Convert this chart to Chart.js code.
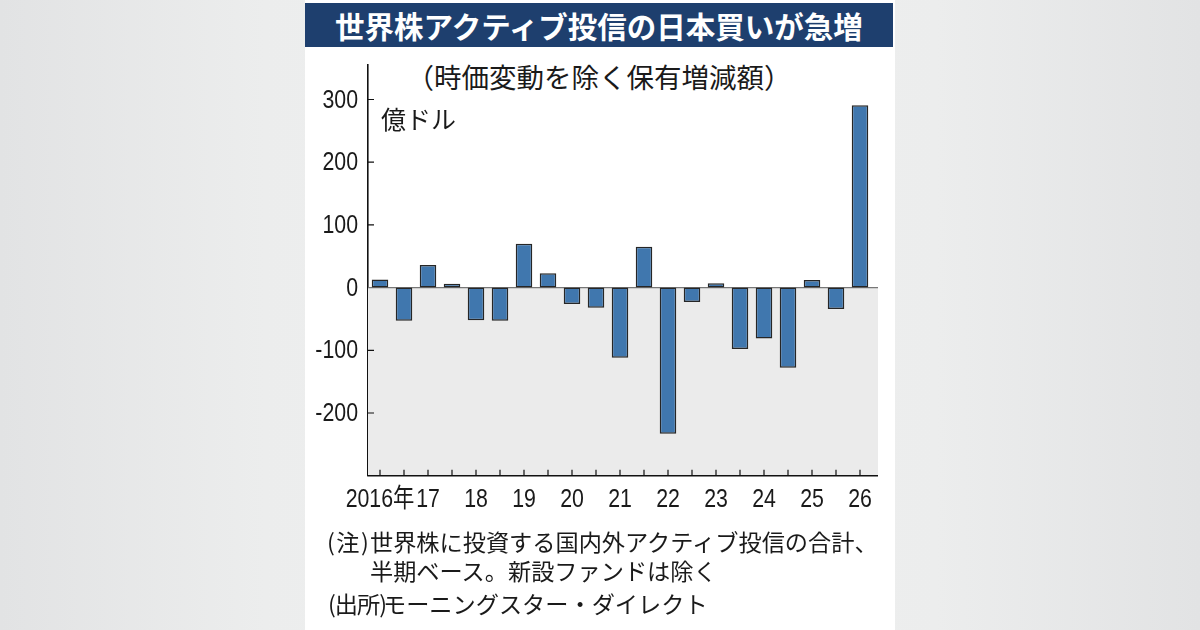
<!DOCTYPE html>
<html><head><meta charset="utf-8">
<script src="https://cdn.jsdelivr.net/npm/chart.js@4/dist/chart.umd.min.js"></script>
<style>
html,body{margin:0;padding:0;}
body{width:1200px;height:630px;position:relative;overflow:hidden;
 background:linear-gradient(90deg,#e2e3e4 0%,#eceded 22%,#eff0f0 50%,#eceded 78%,#e2e3e4 100%);
 font-family:"Noto Sans CJK JP","Noto Sans",sans-serif;color:#1a1a1a;}
#panel{position:absolute;left:305px;top:0;width:590px;height:630px;background:#fff;}
#title{position:absolute;left:305px;top:3px;width:588px;height:44px;background:#1e3f6e;color:#fff;
 font-weight:bold;font-size:29.5px;line-height:44px;text-align:center;}
#sub{position:absolute;left:305px;width:588px;top:56px;font-size:27.5px;line-height:40px;text-align:center;}
#unit{position:absolute;left:381px;top:103px;font-size:25px;line-height:30px;}
.note{position:absolute;font-size:23.2px;line-height:30px;white-space:nowrap;}
.p{display:inline-block;white-space:nowrap;}
canvas{position:absolute;left:0;top:0;}
</style></head>
<body>
<div id="panel"></div>
<div id="title">世界株アクティブ投信の日本買いが急増</div>
<div id="sub">（時価変動を除く保有増減額）</div>
<div style="position:absolute;left:0;top:0;width:1200px;height:630px;"><canvas id="c" width="1200" height="630"></canvas></div>
<div id="unit">億ドル</div>
<div class="note" style="left:327px;top:526px;"><span class="p" style="width:43px;letter-spacing:1.5px;">(注)</span>世界株に投資する国内外アクティブ投信の合計、</div>
<div class="note" style="left:370px;top:555px;">半期ベース。新設ファンドは除く</div>
<div class="note" style="left:328px;top:588px;"><span class="p" style="width:55px;letter-spacing:-1px;">(出所)</span>モーニングスター・ダイレクト</div>
<script>
const periods = ['2016H1','2016H2','2017H1','2017H2','2018H1','2018H2','2019H1','2019H2','2020H1','2020H2','2021H1','2021H2','2022H1','2022H2','2023H1','2023H2','2024H1','2024H2','2025H1','2025H2','2026H1'];
const values = [13,-53,36,6,-52,-53,70,23,-26,-32,-112,65,-233,-23,7,-98,-81,-128,12,-34,291];
const xTickLabels = ['2016年','','17','','18','','19','','20','','21','','22','','23','','24','','25','','26'];
const yTickValues = [-200,-100,0,100,200,300];

const labelFont = '26px "Liberation Sans","Noto Sans CJK JP",sans-serif';
const squeeze = 0.82;

const decor = {
  id:'decor',
  beforeDatasetsDraw(chart){
    const {ctx, chartArea:a, scales:{x,y}} = chart;
    const z = y.getPixelForValue(0);
    ctx.save();
    ctx.fillStyle = '#ebebeb';
    ctx.fillRect(a.left, z, a.right + 6 - a.left, a.bottom - z);
    ctx.strokeStyle = '#777';
    ctx.lineWidth = 1.3;
    ctx.beginPath(); ctx.moveTo(a.left, z); ctx.lineTo(a.right + 6, z); ctx.stroke();
    ctx.restore();
  },
  afterDatasetsDraw(chart){
    const {ctx, chartArea:a, scales:{x,y}} = chart;
    ctx.save();
    ctx.strokeStyle = '#111';
    ctx.lineWidth = 1.6;
    ctx.beginPath(); ctx.moveTo(a.left - 0.8, a.bottom); ctx.lineTo(a.right + 6, a.bottom); ctx.stroke();
    ctx.lineWidth = 1.2;
    ctx.beginPath();
    for (let i = 0; i < periods.length; i++) {
      const px = x.getPixelForValue(i);
      ctx.moveTo(px, a.bottom); ctx.lineTo(px, a.bottom - 6);
    }
    yTickValues.forEach(v => {
      if (v === 0) return;
      const py = y.getPixelForValue(v);
      ctx.moveTo(a.left, py); ctx.lineTo(a.left + 6, py);
    });
    ctx.stroke();
    ctx.fillStyle = '#1a1a1a';
    ctx.font = labelFont;
    ctx.textAlign = 'right'; ctx.textBaseline = 'middle';
    y.ticks.forEach(t => {
      const py = y.getPixelForValue(t.value);
      ctx.save(); ctx.translate(a.left - 10, py + 1); ctx.scale(squeeze, 1);
      ctx.fillText(String(t.value), 0, 0); ctx.restore();
    });
    ctx.textAlign = 'center'; ctx.textBaseline = 'alphabetic';
    x.ticks.forEach((t, i) => {
      const lbl = xTickLabels[i];
      if (!lbl) return;
      const px = x.getPixelForTick(i);
      ctx.save(); ctx.translate(px, a.bottom + 31); ctx.scale(squeeze, 1);
      ctx.fillText(lbl, 0, 0); ctx.restore();
    });
    ctx.restore();
  }
};

new Chart(document.getElementById('c'), {
  type:'bar',
  data:{labels:periods, datasets:[{data:values, backgroundColor:'#4077ae', borderColor:'#262626', borderWidth:1.5, borderSkipped:false, categoryPercentage:1, barPercentage:0.69}]},
  options:{
    responsive:false, animation:false, devicePixelRatio:1,
    layout:{padding:{left:308, right:328, top:65, bottom:114.3}},
    plugins:{legend:{display:false}, tooltip:{enabled:false}},
    scales:{
      x:{
        offset:true,
        grid:{display:false, drawTicks:false},
        border:{display:false},
        afterFit(s){ s.height = 40; },
        ticks:{display:false, autoSkip:false, maxRotation:0}
      },
      y:{
        min:-300, max:355,
        afterFit(s){ s.width = 60; },
        afterBuildTicks(s){ s.ticks = yTickValues.map(v=>({value:v})); },
        grid:{display:false, drawTicks:false},
        border:{display:true, color:'#111', width:1.6},
        ticks:{display:false}
      }
    }
  },
  plugins:[decor]
});
</script>
</body></html>
